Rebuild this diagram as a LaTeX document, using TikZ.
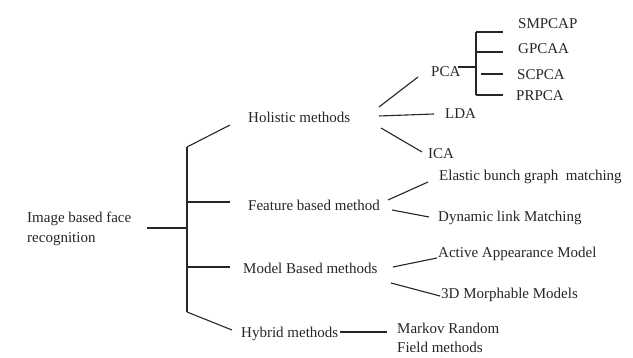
\documentclass[tikz,border=0pt]{standalone}
\usepackage{fontspec}
\setmainfont{Liberation Serif}
\begin{document}
\begin{tikzpicture}[x=1pt,y=-1pt,
  lbl/.style={anchor=west,inner sep=0pt,text height=10pt,text depth=3pt,font=\fontsize{15}{19}\selectfont,text=black!85},
  lbltwo/.style={anchor=north west,inner sep=0pt,align=left,text=black!85},
  ln/.style={line width=1.1pt,draw=black!85}]
\useasboundingbox[fill=white] (0,0) rectangle (633,358);

% nodes
\node[lbltwo,font=\fontsize{15}{20}\selectfont] (root) at (27,212) {Image based face\\recognition};
\node[lbl] (hol) at (248,119) {Holistic methods};
\node[lbl] (fea) at (248,207) {Feature based method};
\node[lbl] (mod) at (243,270) {Model Based methods};
\node[lbl] (hyb) at (241,334) {Hybrid methods};
\node[lbl] (pca) at (431,73) {PCA};
\node[lbl] (lda) at (445,115) {LDA};
\node[lbl] (ica) at (428,155) {ICA};
\node[lbl] (smp) at (518,25) {SMPCAP};
\node[lbl] (gpc) at (518,50) {GPCAA};
\node[lbl] (scp) at (517,76) {SCPCA};
\node[lbl] (prp) at (516,97) {PRPCA};
\node[lbl] (ebg) at (439,177) {Elastic bunch graph\ \ matching};
\node[lbl] (dlm) at (438,218) {Dynamic link Matching};
\node[lbl] (aam) at (438,254) {Active Appearance Model};
\node[lbl] (mmm) at (441,295) {3D Morphable Models};
\node[lbltwo,font=\fontsize{15}{19}\selectfont] (mrf) at (397,323) {Markov Random\\Field methods};

% junction coordinates
\coordinate (rootend) at (147,228);
\coordinate (tmid) at (187,228);
\coordinate (ttop) at (187,147);
\coordinate (tfea) at (187,202);
\coordinate (tmod) at (187,267);
\coordinate (tbot) at (187,312);
\coordinate (holin) at (230,125);
\coordinate (feain) at (230,202);
\coordinate (modin) at (230,267);
\coordinate (hybin) at (232,330);
\coordinate (holpca) at (379,107);
\coordinate (pcain) at (418,77);
\coordinate (hollda) at (379,116);
\coordinate (ldain) at (434,114);
\coordinate (holica) at (381,128);
\coordinate (icain) at (422,152);
\coordinate (pcaout) at (458,67);
\coordinate (bmid) at (476,67);
\coordinate (btop) at (476,32);
\coordinate (bbot) at (476,95);
\coordinate (b1) at (503,32);
\coordinate (b2a) at (476,52);
\coordinate (b2) at (503,52);
\coordinate (b3a) at (481,74);
\coordinate (b3) at (503,74);
\coordinate (b4) at (503,95);
\coordinate (feaebg) at (388,200);
\coordinate (ebgin) at (428,182);
\coordinate (feadlm) at (392,210);
\coordinate (dlmin) at (429,217);
\coordinate (modaam) at (393,267);
\coordinate (aamin) at (437,258);
\coordinate (modmmm) at (391,283);
\coordinate (mmmin) at (440,296);
\coordinate (hybout) at (340,332);
\coordinate (mrfin) at (387,332);

% connectors
\draw[ln] (rootend) -- (tmid);
\draw[ln] (ttop) -- (tbot);
\draw[ln] (ttop) -- (holin);
\draw[ln] (tfea) -- (feain);
\draw[ln] (tmod) -- (modin);
\draw[ln] (tbot) -- (hybin);
\draw[ln] (holpca) -- (pcain);
\draw[ln] (hollda) -- (ldain);
\draw[ln] (holica) -- (icain);
\draw[ln] (pcaout) -- (bmid);
\draw[ln] (btop) -- (bbot);
\draw[ln] (btop) -- (b1);
\draw[ln] (b2a) -- (b2);
\draw[ln] (b3a) -- (b3);
\draw[ln] (bbot) -- (b4);
\draw[ln] (feaebg) -- (ebgin);
\draw[ln] (feadlm) -- (dlmin);
\draw[ln] (modaam) -- (aamin);
\draw[ln] (modmmm) -- (mmmin);
\draw[ln] (hybout) -- (mrfin);
\end{tikzpicture}
\end{document}
